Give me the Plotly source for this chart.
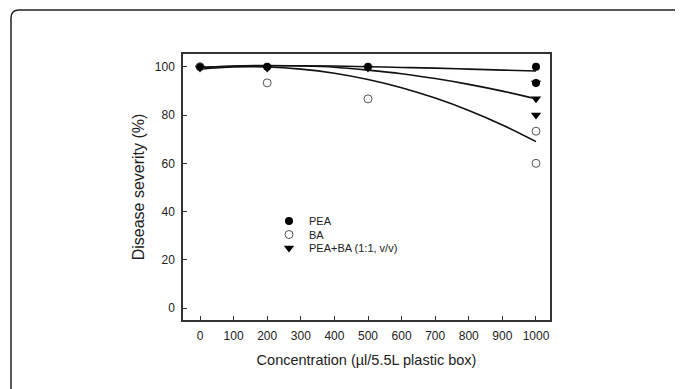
import plotly.graph_objects as go

# ---- data ----
pea_x = [0, 200, 500, 1000, 1000]
pea_y = [100, 100, 100, 100, 93.3]

ba_x = [0, 200, 500, 1000, 1000]
ba_y = [100, 93.3, 86.7, 73.3, 60]

mix_x = [0, 200, 500, 1000, 1000, 1000]
mix_y = [99.5, 99.5, 99.5, 93.3, 86.7, 80]

fit_x = [0, 100, 200, 300, 400, 500, 600, 700, 800, 900, 1000]
fit_pea = [99.8, 100.2, 100.4, 100.4, 100.3, 100.0, 99.7, 99.4, 99.0, 98.6, 98.2]
fit_mix = [99.6, 100.3, 100.5, 100.3, 99.8, 98.6, 97.1, 95.1, 92.7, 89.9, 86.7]
fit_ba = [99.0, 99.9, 99.9, 99.0, 97.3, 94.7, 91.3, 87.0, 81.9, 75.9, 69.0]

x_ticks = [0, 100, 200, 300, 400, 500, 600, 700, 800, 900, 1000]
y_ticks = [0, 20, 40, 60, 80, 100]

FONT = "Liberation Sans, Arial, sans-serif"

# page body has an 8px default margin, so figure coords = page coords - 8
FW, FH = 675, 381
L, R, T, B = 175, 542, 46, 312
W, H = R - L, B - T
def px(x):
    return (x - L) / W
def py(y):
    return (B - y) / H

fig = go.Figure()

for fy in (fit_pea, fit_mix, fit_ba):
    fig.add_trace(go.Scatter(x=fit_x, y=fy, mode="lines", line=dict(color="#111", width=1.6, shape="spline"),
                             showlegend=False, hoverinfo="skip"))

fig.add_trace(go.Scatter(x=pea_x, y=pea_y, mode="markers", name="PEA", legend="legend",
                         marker=dict(symbol="circle", size=8, color="#000")))
fig.add_trace(go.Scatter(x=ba_x, y=ba_y, mode="markers", name="BA", legend="legend2",
                         marker=dict(symbol="circle-open", size=8, color="#555", line=dict(width=1))))
fig.add_trace(go.Scatter(x=mix_x, y=mix_y, mode="markers", name="PEA+BA (1:1, v/v)", legend="legend3",
                         marker=dict(symbol="triangle-down", size=9, color="#000")))

x0, x1, y0, y1 = px(3), px(674), py(2), py(400)
rx, ry = 8 / W, 8 / H
path = (f"M {x0},{y1} L {x0},{y0 - ry} Q {x0},{y0} {x0 + rx},{y0} "
        f"L {x1 - rx},{y0} Q {x1},{y0} {x1},{y0 - ry} L {x1},{y1}")

def leg(yc):
    return dict(x=px(261), y=py(yc), xanchor="left", yanchor="middle",
                bgcolor="rgba(0,0,0,0)", font=dict(size=11, family=FONT, color="#222"),
                itemwidth=30)

fig.update_layout(
    width=FW, height=FH,
    margin=dict(l=L, r=FW - R, t=T, b=FH - B),
    paper_bgcolor="white", plot_bgcolor="white",
    font=dict(family=FONT, color="#222", size=12),
    showlegend=True,
    legend=leg(213), legend2=leg(226.5), legend3=leg(240),
    shapes=[dict(type="path", xref="paper", yref="paper", path=path,
                 line=dict(color="#222", width=1.5))],
    xaxis=dict(range=[-50.6, 1041.7], tickvals=x_ticks, ticks="inside", ticklen=4, tickcolor="#333",
               showline=True, linecolor="#333", linewidth=1.5, mirror=True, showgrid=False, zeroline=False,
               tickfont=dict(size=12), ticklabelstandoff=4,
               title=dict(text="Concentration (µl/5.5L plastic box)", font=dict(size=14.5), standoff=13)),
    yaxis=dict(range=[-4.85, 105.26], tickvals=y_ticks, ticks="inside", ticklen=4, tickcolor="#333",
               showline=True, linecolor="#333", linewidth=1.5, mirror=True, showgrid=False, zeroline=False,
               tickfont=dict(size=12), ticklabelstandoff=4,
               title=dict(text="Disease severity (%)", font=dict(size=16), standoff=6)),
)

fig.write_html("out.html")
